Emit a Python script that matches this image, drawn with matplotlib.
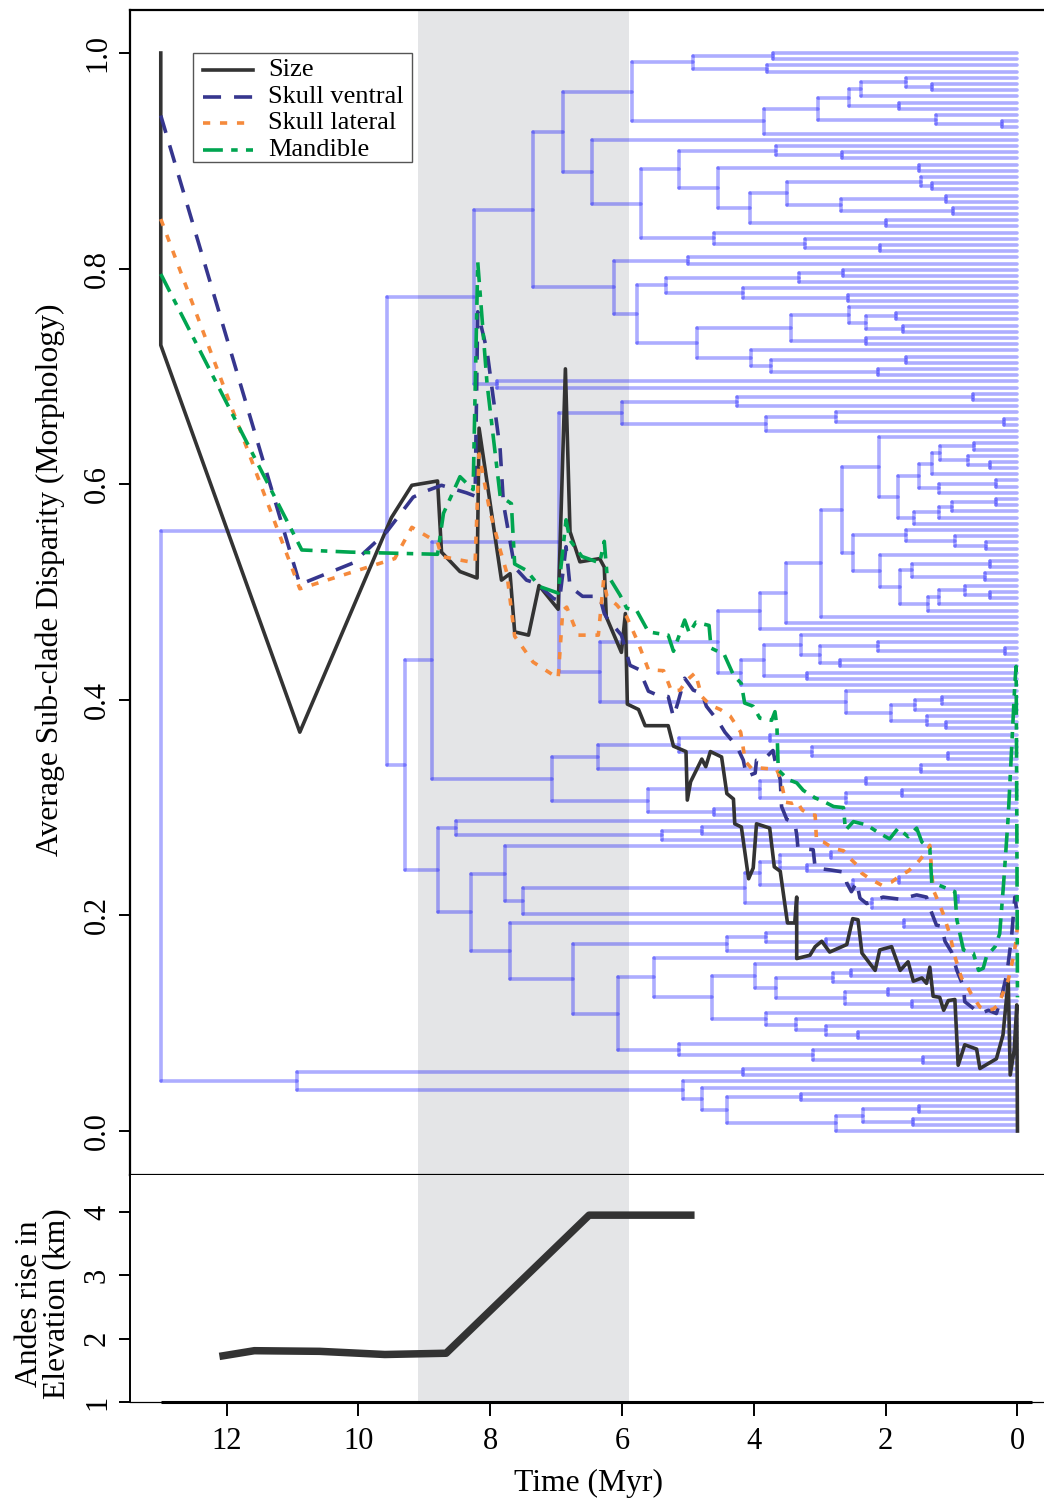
import matplotlib
matplotlib.use("Agg")
import matplotlib.pyplot as plt
from matplotlib.collections import LineCollection
from matplotlib.patches import Rectangle

plt.rcParams['font.family'] = ['Liberation Serif', 'DejaVu Serif']

# ---------------------------------------------------------------- data
SHADE_MYR = (9.1, 5.9)

SIZE_T = [13.0, 13.0, 10.89, 9.50, 9.19, 8.80, 8.74, 8.46, 8.20, 8.17, 7.83, 7.70, 7.63, 7.42,
          7.26, 6.97, 6.86, 6.79, 6.64, 6.34, 6.27, 6.24, 6.01, 5.95, 5.92, 5.75, 5.65, 5.30,
          5.22, 5.03, 5.01, 4.96, 4.79, 4.73, 4.66, 4.49, 4.41, 4.31, 4.29, 4.19, 4.08, 4.01,
          3.96, 3.76, 3.69, 3.60, 3.49, 3.38, 3.35, 3.35, 3.15, 3.07, 2.97, 2.85, 2.59, 2.50,
          2.42, 2.36, 2.16, 2.09, 1.91, 1.78, 1.66, 1.58, 1.45, 1.38, 1.33, 1.28, 1.18, 1.12,
          1.05, 0.95, 0.90, 0.80, 0.62, 0.57, 0.32, 0.22, 0.14, 0.11, 0.05, 0.01, 0.0]
SIZE_V = [1.0, 0.729, 0.370, 0.569, 0.599, 0.603, 0.537, 0.519, 0.513, 0.652, 0.511, 0.517,
          0.463, 0.460, 0.506, 0.484, 0.707, 0.556, 0.528, 0.531, 0.523, 0.477, 0.444, 0.480,
          0.396, 0.391, 0.376, 0.376, 0.357, 0.352, 0.307, 0.324, 0.345, 0.338, 0.352, 0.347,
          0.313, 0.308, 0.285, 0.282, 0.234, 0.244, 0.285, 0.281, 0.245, 0.241, 0.193, 0.193,
          0.217, 0.160, 0.163, 0.171, 0.176, 0.166, 0.173, 0.197, 0.196, 0.165, 0.149, 0.168,
          0.171, 0.149, 0.157, 0.139, 0.142, 0.137, 0.152, 0.125, 0.124, 0.112, 0.121, 0.122,
          0.061, 0.080, 0.076, 0.058, 0.067, 0.089, 0.140, 0.052, 0.075, 0.117, 0.0]

VENTRAL_T = [13.0, 10.89, 10.08, 9.57, 9.17, 8.96, 8.74, 8.36, 8.23, 8.19, 8.05, 7.85, 7.80,
             7.63, 7.45, 7.30, 7.04, 6.95, 6.85, 6.79, 6.60, 6.34, 6.27, 6.23, 6.01, 5.88,
             5.74, 5.60, 5.45, 5.30, 5.22, 5.15, 5.05, 4.92, 4.79, 4.72, 4.54, 4.44, 4.26,
             4.16, 4.11, 3.98, 3.96, 3.86, 3.71, 3.68, 3.60, 3.58, 3.50, 3.38, 3.35, 3.33,
             3.10, 3.07, 2.82, 2.62, 2.59, 2.52, 2.44, 2.39, 2.29, 2.04, 1.78, 1.53, 1.38,
             1.33, 1.23, 1.15, 1.10, 1.00, 0.92, 0.82, 0.80, 0.57, 0.44, 0.32, 0.24, 0.16,
             0.09, 0.04, 0.0]
VENTRAL_V = [0.942, 0.507, 0.527, 0.556, 0.588, 0.594, 0.599, 0.592, 0.589, 0.760, 0.724,
             0.632, 0.582, 0.523, 0.511, 0.508, 0.494, 0.492, 0.542, 0.505, 0.496, 0.496,
             0.480, 0.476, 0.460, 0.432, 0.428, 0.408, 0.404, 0.403, 0.384, 0.398, 0.420,
             0.409, 0.406, 0.394, 0.380, 0.370, 0.357, 0.344, 0.329, 0.332, 0.344, 0.344,
             0.353, 0.344, 0.326, 0.301, 0.289, 0.286, 0.275, 0.262, 0.261, 0.244, 0.242,
             0.240, 0.230, 0.222, 0.231, 0.216, 0.211, 0.217, 0.215, 0.219, 0.217, 0.207,
             0.191, 0.190, 0.176, 0.166, 0.149, 0.134, 0.120, 0.109, 0.112, 0.109, 0.125,
             0.146, 0.180, 0.217, 0.200]

LATERAL_T = [13.0, 10.89, 9.45, 9.19, 8.80, 8.74, 8.23, 8.17, 8.01, 7.85, 7.75, 7.63, 7.35,
             6.97, 6.90, 6.84, 6.67, 6.36, 6.28, 6.23, 6.08, 5.93, 5.77, 5.60, 5.37, 5.25,
             5.12, 5.02, 4.89, 4.79, 4.66, 4.51, 4.36, 4.20, 4.13, 4.03, 3.96, 3.76, 3.66,
             3.60, 3.52, 3.42, 3.35, 3.27, 3.15, 3.07, 3.05, 2.94, 2.79, 2.64, 2.56, 2.44,
             2.36, 2.24, 2.06, 1.91, 1.78, 1.66, 1.53, 1.38, 1.33, 1.31, 1.28, 1.23, 1.13,
             1.03, 0.95, 0.85, 0.77, 0.70, 0.57, 0.47, 0.37, 0.29, 0.24, 0.14, 0.06, 0.02, 0.0]
LATERAL_V = [0.846, 0.503, 0.531, 0.560, 0.546, 0.533, 0.527, 0.628, 0.576, 0.539, 0.518,
             0.459, 0.435, 0.420, 0.483, 0.486, 0.460, 0.460, 0.511, 0.496, 0.488, 0.477,
             0.455, 0.428, 0.427, 0.408, 0.409, 0.418, 0.425, 0.403, 0.395, 0.391, 0.385,
             0.370, 0.343, 0.336, 0.337, 0.336, 0.336, 0.328, 0.305, 0.304, 0.306, 0.298,
             0.293, 0.293, 0.270, 0.268, 0.262, 0.260, 0.254, 0.247, 0.239, 0.234, 0.228,
             0.231, 0.237, 0.241, 0.248, 0.259, 0.265, 0.248, 0.224, 0.217, 0.202, 0.183,
             0.162, 0.142, 0.135, 0.127, 0.115, 0.112, 0.113, 0.117, 0.125, 0.140, 0.162,
             0.177, 0.190]

MANDIBLE_T = [13.0, 10.86, 10.12, 8.80, 8.71, 8.46, 8.26, 8.19, 8.05, 7.85, 7.68, 7.63, 7.45,
              7.25, 6.97, 6.85, 6.79, 6.61, 6.34, 6.27, 6.23, 6.03, 5.93, 5.78, 5.60, 5.30,
              5.22, 5.05, 4.98, 4.88, 4.68, 4.65, 4.45, 4.31, 4.19, 4.14, 4.01, 3.91, 3.73,
              3.68, 3.65, 3.63, 3.48, 3.35, 3.25, 3.07, 2.95, 2.79, 2.64, 2.61, 2.49, 2.29,
              2.09, 1.94, 1.81, 1.66, 1.53, 1.45, 1.33, 1.30, 1.23, 1.07, 0.95, 0.92, 0.82,
              0.67, 0.59, 0.52, 0.47, 0.34, 0.27, 0.21, 0.14, 0.09, 0.04, 0.02, 0.01, 0.0]
MANDIBLE_V = [0.795, 0.539, 0.537, 0.535, 0.573, 0.607, 0.595, 0.806, 0.694, 0.589, 0.582,
              0.526, 0.520, 0.505, 0.499, 0.567, 0.548, 0.533, 0.527, 0.547, 0.517, 0.497,
              0.485, 0.483, 0.463, 0.460, 0.445, 0.474, 0.462, 0.472, 0.469, 0.448, 0.442,
              0.423, 0.415, 0.397, 0.394, 0.383, 0.381, 0.389, 0.375, 0.335, 0.326, 0.323,
              0.316, 0.309, 0.306, 0.301, 0.300, 0.279, 0.287, 0.284, 0.276, 0.271, 0.281,
              0.273, 0.281, 0.268, 0.262, 0.230, 0.229, 0.225, 0.222, 0.196, 0.168, 0.165,
              0.149, 0.151, 0.162, 0.171, 0.183, 0.230, 0.292, 0.353, 0.415, 0.431, 0.290, 0.124]

ELEV_T = [12.11, 11.58, 10.59, 9.60, 8.67, 6.50, 4.90]
ELEV_KM = [1.72, 1.81, 1.80, 1.75, 1.77, 3.95, 3.95]

SERIES_LABELS = ['Size', 'Skull ventral', 'Skull lateral', 'Mandible']
SERIES_COLORS = ['#333333', '#36368e', '#f58a3c', '#00a550']
SERIES_DASHES = [None, (5.0, 3.6), (2.0, 2.7), (5.5, 2.3, 1.8, 2.3)]

# Phylogeny pieces in Newick form: "x" is a tip, the number after ")" is the node age (Myr)
CL_0_13 = ("(((x,x)3.71,(x,x)3.8)4.92,(((((x,(x,x)1.29)1.69,x)2.37,(x,x)1.8)2.55,"
           "(x,(x,x)0.23)1.24)3.03,x)3.85)5.85")
CL_14_32 = ("(x,(((x,(x,x)2.66)3.66,((x,x)1.49,(((x,(x,x)1.3)1.46,((x,x)1.08,(x,x)0.98)2.68)3.49,"
            "(x,x)2.0)4.06)4.54)5.13,(x,(x,(x,x)2.09)3.22)4.6)5.71)6.45")
CL_33_52 = ("((x,x)5.0,((((x,x)2.65,x)3.31,(x,(x,x)2.57)4.16)5.34,"
            "(((x,((x,x)1.84,(x,x)1.74)2.3)2.55,(x,x)2.3)3.44,"
            "(x,((x,x)1.69,(x,x)2.12)3.74)4.05)4.86)5.78)6.13")
CL_55_61 = "(((x,x)0.67,x)4.25,((x,(x,x)0.2)2.76,x)3.82)6.0"
CL_62_76 = ("(x,(((((x,x)0.66,(x,(x,x)0.41)0.75)1.17,x)1.3,((x,x)0.32,x)1.19)1.49,"
            "((((x,x)0.32,x)1.0,x)1.19,x)1.57)1.82)2.1")
CL_77_90 = ("((x,(x,(x,x)0.47)0.95)1.69,(x,(((x,x)0.42,(x,x)0.5)1.6,"
            "(((x,(x,x)0.42)0.79,x)1.19,x)1.36)1.79)2.09)2.49")
CL_94_102 = "(((x,((x,(x,x)0.19)2.12,(x,x)2.69)3.0)3.29,(x,x)3.2)3.85,x)4.2"
CL_103_109 = "(x,(((x,x)1.15,x)1.56,(x,(x,x)1.08)1.38)1.92)2.6"
CL_110_116 = "(((x,x)3.76,(x,(x,x)1.06)3.12)5.14,(x,x)1.46)6.37"
CL_117_123 = "(((x,x)2.3,((x,x)1.75,x)2.6)3.9,(x,x)4.6)5.6"
CL_124_127 = "(x,((x,x)4.79,x)5.4)8.52"
CL_129_138 = "((((x,x)2.83,(x,x)3.2)3.6,((x,x)1.8,x)2.5)3.9,((x,x)0.9,x)2.2)4.14"
CL_142_145 = "((x,(x,x)2.9)3.82,x)4.41"
CL_146_163 = ("((x,((x,(((x,x)2.53,x)2.8,((x,x)1.96,(x,x)1.6)2.62)3.66)3.98,"
              "(x,(x,(x,(x,x)2.42)2.9)3.36)3.81)4.63)5.51,(x,(x,(x,x)1.43)3.1)5.13)6.06")
CL_164_174 = "((x,x)4.17,(x,(x,((x,x)3.28,(((x,x)1.49,(x,x)1.58)2.34,x)2.75)4.41)4.79)5.08)10.93"


def clade(age, *kids):
    return "(" + ",".join(kids) + ")" + repr(float(age))


TREE = clade(13.0,
             clade(9.56,
                   clade(8.24, clade(7.35, clade(6.9, CL_0_13, CL_14_32), CL_33_52), "(x,x)7.9"),
                   clade(9.29,
                         clade(8.88,
                               clade(6.95, CL_55_61,
                                     clade(6.34,
                                           clade(4.54,
                                                 clade(3.91, clade(3.51, clade(2.98, clade(
                                                     2.67, CL_62_76, CL_77_90), "x"), "x"), "x"),
                                                 CL_94_102),
                                           CL_103_109)),
                               clade(7.07, CL_110_116, CL_117_123)),
                         clade(8.8, CL_124_127,
                               clade(8.29,
                                     clade(7.77, "x", clade(7.5, CL_129_138, "x")),
                                     clade(7.7, "(x,x)1.72", clade(6.74, CL_142_145, CL_146_163)))))),
             CL_164_174)


# ---------------------------------------------------------------- tree helpers
def parse_newick(text):
    pos = 0

    def read():
        nonlocal pos
        if text[pos] == '(':
            pos += 1
            kids = [read()]
            while text[pos] == ',':
                pos += 1
                kids.append(read())
            if text[pos] != ')':
                raise ValueError("unbalanced newick near %d" % pos)
            pos += 1
            start = pos
            while pos < len(text) and (text[pos].isdigit() or text[pos] == '.'):
                pos += 1
            return (float(text[start:pos]), kids)
        if text[pos] == 'x':
            pos += 1
            return (0.0, [])
        raise ValueError("unexpected char %r at %d" % (text[pos], pos))

    node = read()
    if pos != len(text):
        raise ValueError("trailing text in newick")
    return node


def count_tips(node):
    return 1 if not node[1] else sum(count_tips(k) for k in node[1])


def phylogram_segments(root):
    n = count_tips(root)
    segs = []
    nxt = [0]

    def place(node):
        age, kids = node
        if not kids:
            y = 1.0 - nxt[0] / (n - 1)
            nxt[0] += 1
            return y
        ys = [place(k) for k in kids]
        segs.append([(age, min(ys)), (age, max(ys))])
        for k, yk in zip(kids, ys):
            segs.append([(age, yk), (k[0], yk)])
        return sum(ys) / len(ys)

    place(root)
    return segs


# ---------------------------------------------------------------- figure
W, H = 1044, 1502
fig = plt.figure(figsize=(W / 100, H / 100), dpi=100)


def px_box(x0, y0, x1, y1):
    return [x0 / W, 1 - y1 / H, (x1 - x0) / W, (y1 - y0) / H]


XLIM = (13.467, -0.524)
ax1 = fig.add_axes(px_box(130, 10, 1052, 1175))
ax2 = fig.add_axes(px_box(130, 1175, 1052, 1402))

# --- top panel: phylogeny + disparity through time
ax1.axvspan(SHADE_MYR[0], SHADE_MYR[1], color='#e4e5e7', lw=0, zorder=0)
tree = LineCollection(phylogram_segments(parse_newick(TREE)), colors='blue', alpha=0.32,
                      linewidths=2.6, capstyle='round', zorder=1)
ax1.add_collection(tree)

series = [(SIZE_T, SIZE_V), (VENTRAL_T, VENTRAL_V), (LATERAL_T, LATERAL_V),
          (MANDIBLE_T, MANDIBLE_V)]
for (t, v), col, dsh in zip(series, SERIES_COLORS, SERIES_DASHES):
    kw = dict(color=col, lw=2.6, zorder=3, solid_joinstyle='round', dash_joinstyle='round')
    if dsh is not None:
        kw['dashes'] = dsh
    ax1.plot(t, v, **kw)

ax1.set_xlim(*XLIM)
ax1.set_ylim(-0.0408, 1.0399)
ax1.set_xticks([])
ax1.set_yticks([0.0, 0.2, 0.4, 0.6, 0.8, 1.0])
ax1.set_yticklabels(['0.0', '0.2', '0.4', '0.6', '0.8', '1.0'], rotation=90, va='center')
ax1.tick_params(axis='y', length=8, width=1.4, labelsize=22, pad=5)
ax1.spines['right'].set_visible(False)
for s in ('left', 'top', 'bottom'):
    ax1.spines[s].set_linewidth(1.6)

# legend (drawn by hand in axes fraction)
ax1.add_patch(Rectangle((0.0683, 0.8695), 0.2376, 0.0932, transform=ax1.transAxes,
                        facecolor='white', edgecolor='#555555', lw=1.0, zorder=5))
rows = [0.9485, 0.9253, 0.9030, 0.8798]
for lab, col, dsh, yy in zip(SERIES_LABELS, SERIES_COLORS, SERIES_DASHES, rows):
    kw = dict(color=col, lw=2.6, transform=ax1.transAxes, zorder=6)
    if dsh is not None:
        kw['dashes'] = dsh
    ax1.plot([0.0792, 0.1334], [yy, yy], **kw)
    ax1.text(0.1497, yy, lab, transform=ax1.transAxes, fontsize=19, ha='left',
             va='center', zorder=6)

# --- bottom panel: Andes elevation
ax2.axvspan(SHADE_MYR[0], SHADE_MYR[1], color='#e4e5e7', lw=0, zorder=0)
ax2.plot(ELEV_T, ELEV_KM, color='#333333', lw=5.4, solid_capstyle='butt', zorder=3)
ax2.set_xlim(*XLIM)
ax2.set_ylim(1.0, 4.584)
ax2.set_yticks([1, 2, 3, 4])
ax2.set_yticklabels(['1', '2', '3', '4'], rotation=90, va='center')
ax2.set_xticks([12, 10, 8, 6, 4, 2, 0])
ax2.set_xticklabels(['12', '10', '8', '6', '4', '2', '0'])
ax2.tick_params(axis='y', length=8, width=1.4, labelsize=22, pad=5)
ax2.tick_params(axis='x', length=10, width=1.4, labelsize=22, pad=8)
ax2.spines['top'].set_visible(False)
ax2.spines['right'].set_visible(False)
ax2.spines['left'].set_linewidth(1.4)
ax2.spines['bottom'].set_linewidth(0.9)
ax2.plot([13.0, -0.22], [1.0, 1.0], color='black', lw=2.2, clip_on=False, zorder=4,
         solid_capstyle='butt')

# axis titles
fig.text(50 / W, 1 - 580 / H, 'Average Sub-clade Disparity (Morphology)', rotation=90,
         ha='center', va='center', fontsize=22.8)
fig.text(43 / W, 1 - 1304 / H, 'Andes rise in\nElevation (km)', rotation=90,
         ha='center', va='center', fontsize=22.8, linespacing=0.95, multialignment='center')
fig.text(588 / W, 1 - 1483 / H, 'Time (Myr)', ha='center', va='center', fontsize=22.8)

fig.savefig('out.png', dpi=100)
